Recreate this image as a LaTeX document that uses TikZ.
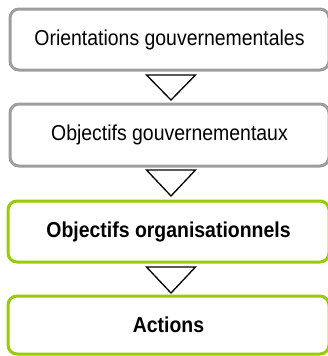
\documentclass[tikz,border=0pt]{standalone}
\usepackage{fontspec}
\setmainfont{Liberation Sans}[FakeStretch=0.9]
\usetikzlibrary{positioning}
\definecolor{boxgray}{RGB}{158,158,158}
\definecolor{boxgreen}{RGB}{153,204,0}
\tikzset{
  box/.style={draw=boxgray, line width=3pt, rounded corners=9pt, fill=white,
    minimum width=319pt, inner sep=0pt, font=\fontsize{21.6}{25}\selectfont},
  greenbox/.style={box, draw=boxgreen, font=\fontsize{21.6}{25}\selectfont\bfseries},
  flowtri/.style={draw=black, line width=1.3pt, line join=miter}
}

\begin{document}
\begin{tikzpicture}[x=1pt,y=-1pt]
\useasboundingbox (0,0) rectangle (327,356);

% boxes
\node[box, minimum height=61pt] (orient) at (169.5,39.5) {Orientations gouvernementales};
\node[box, minimum height=62pt] (objgouv) at (169.5,135) {Objectifs gouvernementaux};
\node[greenbox, minimum width=321pt, minimum height=61pt] (objorg) at (168.5,231.5) {Objectifs organisationnels};
\node[greenbox, minimum width=321pt, minimum height=58pt] (actions) at (168.5,325) {Actions};

% triangles between the boxes
\foreach \ya/\yb in {75/100, 170/196, 267/293}
\draw[flowtri] (146.5,\ya) -- (195.5,\ya) -- (171,\yb) -- cycle;
\end{tikzpicture}
\end{document}
